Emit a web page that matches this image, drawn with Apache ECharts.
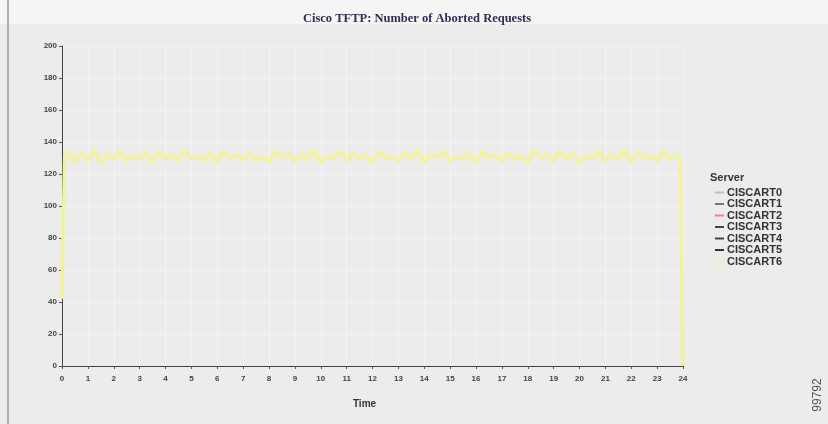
<!DOCTYPE html>
<html>
<head>
<meta charset="utf-8">
<script src="https://cdn.jsdelivr.net/npm/echarts@6/dist/echarts.min.js"></script>
<style>
html,body{margin:0;padding:0;background:#ececec;}
#chart{width:828px;height:424px;}
</style>
</head>
<body>
<div id="chart"></div>
<script>
const chartTitle = 'Cisco TFTP: Number of Aborted Requests';
const xAxisName = 'Time';
const legendTitle = 'Server';
const serverNames = ['CISCART0','CISCART1','CISCART2','CISCART3','CISCART4','CISCART5','CISCART6'];
const serverColors = ['#9fd89f','#777777','#ff7b7b','#444444','#444444','#333333','#f2f49c'];
const yTicks = [0,20,40,60,80,100,120,140,160,180,200];
const hours = [0,0.1,
 0.25,0.5,0.75,1,1.25,1.5,1.75,2,2.25,2.5,2.75,3,3.25,3.5,3.75,4,4.25,4.5,4.75,5,
 5.25,5.5,5.75,6,6.25,6.5,6.75,7,7.25,7.5,7.75,8,8.25,8.5,8.75,9,9.25,9.5,9.75,10,
 10.25,10.5,10.75,11,11.25,11.5,11.75,12,12.25,12.5,12.75,13,13.25,13.5,13.75,14,
 14.25,14.5,14.75,15,15.25,15.5,15.75,16,16.25,16.5,16.75,17,17.25,17.5,17.75,18,
 18.25,18.5,18.75,19,19.25,19.5,19.75,20,20.25,20.5,20.75,21,21.25,21.5,21.75,22,
 22.25,22.5,22.75,23,23.25,23.5,23.75,23.9,24];
const ciscart6 = [42,130,
 134,127,133,128,135,127,132,129,134,128,
 131,130,133,127,134,129,132,128,135,130,
 131,128,133,127,134,130,132,129,133,128,
 131,127,134,130,133,128,132,129,135,127,
 131,130,134,128,133,129,132,127,134,130,
 131,128,133,129,135,127,132,130,134,128,
 131,129,133,127,134,130,132,128,133,129,
 131,127,135,130,132,128,134,129,133,127,
 131,130,134,128,132,129,135,127,133,130,
 131,128,134,129,132,
 131,0];

const chart = echarts.init(document.getElementById('chart'));
const series = serverNames.map((n,i)=>({
  name:n, type:'line', showSymbol:false, symbol:'none',
  lineStyle:{color:serverColors[i], width: i===6?3.5:1.5},
  itemStyle:{color:serverColors[i]},
  data: i===6 ? hours.map((h,k)=>[h,ciscart6[k]]) : [],
  z: 3
}));
chart.setOption({
  backgroundColor:'#ececec',
  animation:false,
  title:{text:chartTitle,left:412,textAlign:'center',top:7,
    textStyle:{fontFamily:'Liberation Serif',fontWeight:'bold',fontSize:12.5,color:'#2e2e5c'}},
  grid:{left:62,right:145,top:46,bottom:58,containLabel:false},
  legend:{orient:'vertical',left:710,top:182,itemGap:0.5,itemWidth:9,itemHeight:2,icon:'rect',
    data:serverNames,
    textStyle:{fontFamily:'Liberation Sans',fontWeight:'bold',fontSize:11,lineHeight:11,color:'#333',padding:[0,0,0,-2]}},
  xAxis:{type:'value',min:0,max:24,interval:1,name:xAxisName,nameLocation:'middle',nameGap:33,
    nameTextStyle:{fontFamily:'Liberation Sans',fontWeight:'bold',fontSize:10,color:'#333',padding:[0,16,0,0]},
    axisLine:{show:true,lineStyle:{color:'#444',width:1}},
    axisTick:{show:true,length:3,lineStyle:{color:'#555'}},
    axisLabel:{fontFamily:'Liberation Sans',fontWeight:'bold',fontSize:8,color:'#444',margin:9},
    splitLine:{show:true,lineStyle:{color:'#f3f3f3',width:1}}},
  yAxis:{type:'value',min:0,max:200,interval:20,
    axisLine:{show:true,lineStyle:{color:'#444',width:1}},
    axisTick:{show:true,length:3,lineStyle:{color:'#555'}},
    axisLabel:{fontFamily:'Liberation Sans',fontWeight:'bold',fontSize:8,color:'#444',margin:5},
    splitLine:{show:true,lineStyle:{color:'#f3f3f3',width:1}}},
  graphic:[
    {type:'rect',left:0,top:0,shape:{width:828,height:24},style:{fill:'#f5f5f5'},z:-10},
    {type:'line',shape:{x1:8,y1:0,x2:8,y2:424},style:{stroke:'#9a9a9a',lineWidth:1.5}},
    {type:'text',left:710,top:172,style:{text:legendTitle,font:'bold 11px "Liberation Sans"',fill:'#333'}},
    {type:'text',x:818,y:395,rotation:Math.PI/2,style:{text:'99792',font:'12px "Liberation Sans"',fill:'#555',textAlign:'center',textVerticalAlign:'middle'}}
  ],
  series:series
});
</script>
</body>
</html>
